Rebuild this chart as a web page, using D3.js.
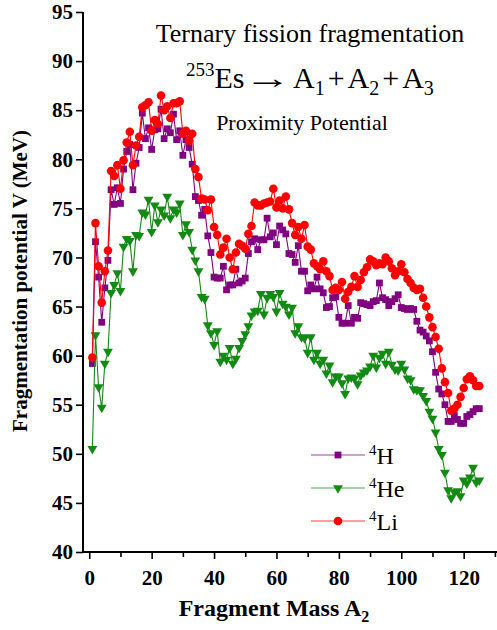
<!DOCTYPE html>
<html>
<head>
<meta charset="utf-8">
<script src="https://cdn.jsdelivr.net/npm/d3@7"></script>
<style>
  html, body { margin: 0; padding: 0; background: #fff; }
  svg { display: block; }
</style>
</head>
<body>
<svg id="chart" width="497" height="630"></svg>
<script>
// Fragmentation potential of 253Es ternary fission versus fragment mass A2
const massA2 = d3.range(1, 126);

const potH = [
  59.2, 71.6, 68.0, 63.4, 66.9, 69.7, 76.9, 75.4, 77.1, 75.5,
  79.0, 80.8, 81.5, 76.9, 79.6, 81.2, 84.7, 82.1, 83.2, 81.0,
  83.0, 83.1, 85.1, 82.1, 83.1, 82.7, 84.6, 82.0, 82.9, 80.4,
  82.0, 81.2, 79.5, 76.2, 75.8, 74.3, 74.9, 72.2, 70.5, 68.0,
  67.9, 67.9, 69.1, 66.7, 67.2, 67.2, 68.8, 67.4, 67.6, 67.9,
  70.4, 71.6, 71.9, 70.8, 71.8, 71.8, 74.0, 72.1, 72.5, 71.3,
  73.2, 72.8, 72.4, 70.4, 70.3, 69.5, 71.2, 68.6, 68.6, 66.6,
  67.2, 66.8, 68.0, 66.8, 66.4, 64.9, 65.0, 65.9, 66.0, 63.9,
  63.3, 63.3, 65.1, 63.3, 63.9, 63.8, 65.4, 65.3, 65.2, 65.1,
  65.5, 65.6, 67.4, 65.9, 65.7, 65.1, 65.5, 65.8, 66.2, 64.9,
  64.8, 64.7, 64.8, 64.7, 63.5, 62.6, 62.4, 62.0, 61.5, 60.4,
  58.3, 56.6, 56.1, 55.0, 53.3, 53.3, 53.9, 53.5, 53.1, 53.1,
  53.8, 54.0, 54.3, 54.6, 54.6
];

const potHe = [
  50.5, 62.1, 56.8, 54.7, 59.2, 60.4, 66.4, 67.2, 68.4, 66.6,
  71.1, 71.9, 71.7, 68.6, 72.3, 72.2, 74.6, 74.4, 75.9, 72.6,
  75.3, 73.6, 74.9, 74.3, 76.2, 74.0, 74.9, 74.6, 75.5, 72.3,
  73.4, 72.6, 70.8, 69.7, 68.6, 66.0, 65.8, 63.1, 62.3, 61.1,
  62.5, 59.4, 60.0, 59.6, 60.8, 59.2, 59.7, 60.8, 61.5, 62.2,
  63.0, 64.1, 64.5, 64.6, 66.3, 64.2, 65.9, 66.3, 66.0, 64.5,
  66.4, 65.3, 65.0, 64.2, 64.9, 62.3, 63.0, 61.9, 61.8, 60.3,
  61.9, 59.6, 60.3, 59.2, 59.6, 58.2, 59.0, 57.3, 57.9, 57.9,
  57.2, 56.1, 57.7, 57.8, 57.7, 57.1, 58.0, 58.3, 58.5, 58.9,
  60.0, 58.8, 59.8, 60.2, 59.2, 60.4, 59.1, 58.6, 58.5, 59.2,
  58.6, 57.7, 57.5, 56.6, 56.5, 56.5, 55.9, 55.4, 54.3, 53.6,
  52.2, 50.5, 49.9, 48.1, 46.3, 45.5, 46.1, 46.2, 45.7, 47.3,
  47.0, 47.6, 48.6, 47.1, 47.3
];

const potLi = [
  59.8, 73.5, 69.1, 65.4, 68.6, 70.7, 78.8, 78.3, 79.4, 77.0,
  79.9, 81.7, 82.8, 79.4, 81.4, 82.3, 85.3, 85.5, 85.8, 82.9,
  84.0, 83.6, 86.5, 85.0, 85.4, 84.2, 85.7, 85.7, 85.9, 82.6,
  82.9, 81.9, 82.6, 79.0, 78.2, 76.0, 75.9, 74.8, 75.9, 73.1,
  72.3, 70.3, 71.0, 71.9, 70.0, 68.8, 70.5, 71.4, 71.2, 70.9,
  72.4, 73.2, 75.6, 75.3, 75.3, 75.5, 75.6, 75.7, 77.0, 75.1,
  75.8, 75.0, 76.2, 74.9, 73.5, 72.3, 73.1, 71.9, 73.3, 71.1,
  70.8, 69.4, 69.1, 68.8, 69.6, 68.6, 68.1, 66.7, 66.9, 66.7,
  67.5, 65.8, 66.5, 67.0, 68.1, 67.0, 67.7, 68.5, 69.0, 69.8,
  69.6, 69.2, 69.4, 69.3, 70.0, 69.6, 68.9, 68.2, 68.6, 69.3,
  68.5, 67.8, 67.4, 66.9, 66.7, 66.8, 65.9, 65.0, 63.9, 62.9,
  61.9, 60.7, 58.7, 57.3, 56.2, 54.4, 54.6, 55.0, 55.8, 56.7,
  57.6, 57.9, 57.5, 56.9, 56.9
];

const seriesNames = ["4H", "4He", "4Li"];
const yTicks = [40, 45, 50, 55, 60, 65, 70, 75, 80, 85, 90, 95];
const xTicks = [0, 20, 40, 60, 80, 100, 120];
const xMinorTicks = [10, 30, 50, 70, 90, 110, 130];

const series = [
  { name: seriesNames[0], values: potH,  color: "#800080", symbol: "square" },
  { name: seriesNames[1], values: potHe, color: "#138a13", symbol: "triangleDown" },
  { name: seriesNames[2], values: potLi, color: "#ff0000", symbol: "circle" }
];

const svg = d3.select("#chart");
const serif = "'Liberation Serif', 'Times New Roman', serif";

const x = d3.scaleLinear().domain([-2, 131]).range([83, 498]);
const y = d3.scaleLinear().domain([40, 95]).range([552, 12]);

// Axes
const yAxis = d3.axisLeft(y).tickValues(yTicks).tickSize(7).tickPadding(3).tickFormat(d3.format("d"));
const gy = svg.append("g").attr("transform", `translate(${x.range()[0]},0)`).call(yAxis);

const xAxis = d3.axisBottom(x).tickValues(xTicks).tickSize(7).tickPadding(11).tickFormat(d3.format("d"));
const gx = svg.append("g").attr("transform", `translate(0,${y.range()[0]})`).call(xAxis);
const gxMinor = svg.append("g").attr("transform", `translate(0,${y.range()[0]})`)
  .call(d3.axisBottom(x).tickValues(xMinorTicks).tickSize(5).tickFormat(""));
gxMinor.select(".domain").remove();

[gx, gy, gxMinor].forEach(g => {
  g.select(".domain").attr("stroke", "#000").attr("stroke-width", 2);
  g.selectAll(".tick line").attr("stroke", "#000").attr("stroke-width", 1.6);
  g.selectAll(".tick text")
    .attr("fill", "#000")
    .style("font-family", serif)
    .style("font-weight", "bold")
    .style("font-size", "21px");
});
gy.select(".domain").attr("d", `M0,${y.range()[0]}V${y.range()[1]}`);
gx.select(".domain").attr("d", `M${x.range()[0]},0H${x.range()[1]}`);

// Axis titles
const xTitle = svg.append("text")
  .attr("x", 274).attr("y", 616)
  .attr("text-anchor", "middle")
  .style("font-family", serif).style("font-weight", "bold").style("font-size", "24px");
xTitle.append("tspan").text("Fragment Mass A");
xTitle.append("tspan").attr("dy", 6).style("font-size", "16px").text("2");

svg.append("text")
  .attr("transform", "translate(27,281) rotate(-90)")
  .attr("text-anchor", "middle")
  .style("font-family", serif).style("font-weight", "bold").style("font-size", "21px")
  .text("Fragmentation potential V (MeV)");

// Annotations
svg.append("text")
  .attr("x", 310).attr("y", 42)
  .attr("text-anchor", "middle")
  .style("font-family", serif).style("font-size", "26px")
  .text("Ternary fission fragmentation");

// Reaction: 253Es -> A1 + A2 + A3 (the arrow is stretched horizontally)
const reactionLeft = svg.append("text")
  .attr("x", 186).attr("y", 88)
  .style("font-family", serif).style("font-size", "30px");
reactionLeft.append("tspan").attr("dy", -12).style("font-size", "19px").text("253");
reactionLeft.append("tspan").attr("dy", 12).text("Es");

svg.append("text")
  .attr("transform", "translate(244,88) scale(1.58,1)")
  .style("font-family", serif).style("font-size", "30px")
  .text("\u2192");

const reactionRight = svg.append("text")
  .attr("x", 293).attr("y", 88)
  .style("font-family", serif).style("font-size", "30px");
reactionRight.append("tspan").text("A");
reactionRight.append("tspan").attr("dy", 7).style("font-size", "20px").text("1");
reactionRight.append("tspan").attr("dy", -7).attr("dx", 3).text("+");
reactionRight.append("tspan").attr("dx", 3).text("A");
reactionRight.append("tspan").attr("dy", 7).style("font-size", "20px").text("2");
reactionRight.append("tspan").attr("dy", -7).attr("dx", 3).text("+");
reactionRight.append("tspan").attr("dx", 3).text("A");
reactionRight.append("tspan").attr("dy", 7).style("font-size", "20px").text("3");

svg.append("text")
  .attr("x", 302).attr("y", 130)
  .attr("text-anchor", "middle")
  .style("font-family", serif).style("font-size", "22px")
  .text("Proximity Potential");

// Markers
function symbolPath(kind) {
  if (kind === "square") return d3.symbol(d3.symbolSquare, 46)();
  if (kind === "circle") return d3.symbol(d3.symbolCircle, 58)();
  return d3.symbol(d3.symbolTriangle, 42)();
}

const line = d3.line().x((d, i) => x(massA2[i])).y(d => y(d));

series.forEach(s => {
  const g = svg.append("g").attr("class", "series");
  g.append("path")
    .datum(s.values)
    .attr("d", line)
    .attr("fill", "none")
    .attr("stroke", s.color)
    .attr("stroke-width", 1.1);
  g.selectAll("path.mark")
    .data(s.values)
    .enter().append("path")
    .attr("class", "mark")
    .attr("d", symbolPath(s.symbol))
    .attr("transform", (d, i) =>
      `translate(${x(massA2[i])},${y(d)})` + (s.symbol === "triangleDown" ? " rotate(180)" : ""))
    .attr("fill", s.color);
});

// Legend
const legend = svg.append("g").attr("transform", "translate(311,455)");
series.forEach((s, i) => {
  const row = legend.append("g").attr("transform", `translate(0,${i * 33})`);
  row.append("line").attr("x1", 0).attr("x2", 54).attr("y1", 0).attr("y2", 0)
    .attr("stroke", s.color).attr("stroke-width", 1.1).attr("stroke-opacity", 0.75);
  row.append("path").attr("d", symbolPath(s.symbol))
    .attr("transform", `translate(27,0)` + (s.symbol === "triangleDown" ? " rotate(180)" : ""))
    .attr("fill", s.color);
  const t = row.append("text").attr("x", 58).attr("y", 9)
    .style("font-family", serif).style("font-size", "24px");
  t.append("tspan").attr("dy", -9).style("font-size", "15px").text(s.name.slice(0, 1));
  t.append("tspan").attr("dy", 9).text(s.name.slice(1));
});
</script>
</body>
</html>
